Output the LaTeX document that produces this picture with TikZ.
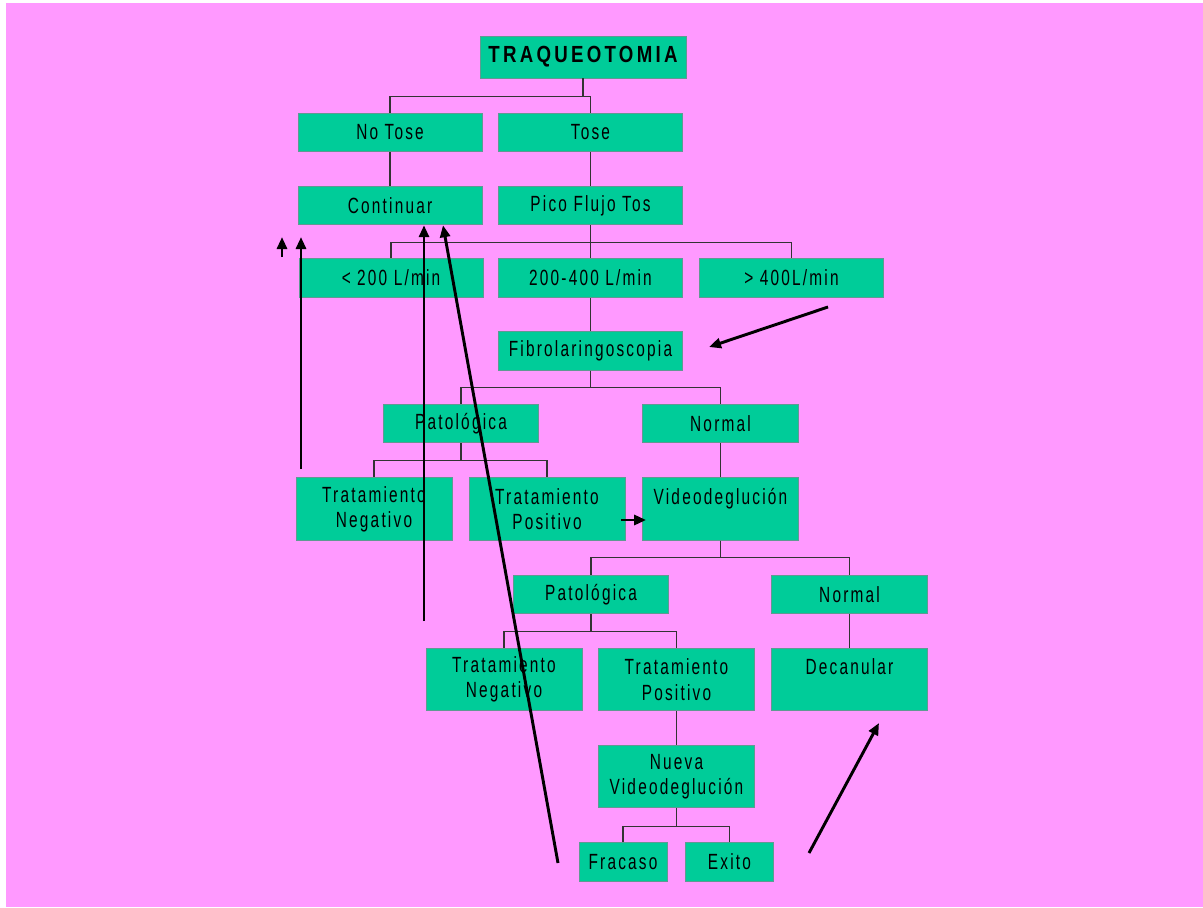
\documentclass[tikz,border=0pt]{standalone}
\usepackage{fontspec}
\usepackage{tikz}
\usetikzlibrary{arrows.meta,calc}
\newfontfamily\boxfont{Liberation Sans}[FakeStretch=0.7,LetterSpace=10]
\newfontfamily\titlefont{Liberation Sans}[FakeStretch=0.8,LetterSpace=14]
\definecolor{pinkbg}{HTML}{FF99FF}
\definecolor{boxgreen}{HTML}{00CC99}
\definecolor{boxline}{HTML}{5F9A92}
\definecolor{linegray}{HTML}{333333}
\tikzset{
  box/.style={draw=boxline, fill=boxgreen, line width=.6pt, inner sep=0pt,
              align=center, text=black,
              font={\boxfont\fontsize{16.5pt}{19pt}\selectfont}},
  wide/.style={box, minimum width=138pt, minimum height=29pt},
  mid/.style={box, minimum width=116.5pt, minimum height=29pt},
  tall/.style={box, minimum width=117pt, minimum height=47pt},
  small/.style={box, minimum width=66pt, minimum height=29pt},
  title/.style={box, minimum width=154.5pt, minimum height=31.5pt,
                font={\titlefont\bfseries\fontsize{17.5pt}{21pt}\selectfont}},
  conn/.style={draw=linegray, line width=.9pt},
  bigarrow/.style={-{Triangle[length=9pt,width=7.5pt]}, line width=2.2pt, draw=black}
}
\begin{document}
\begin{tikzpicture}[x=0.75pt, y=-0.75pt]
  % canvas
  \useasboundingbox (0,0) rectangle (1203,907);
  \fill[white] (0,0) rectangle (1203,907);
  \fill[pinkbg] (6,3) rectangle (1203,907);

  % top levels
  \node[title] (traq) at (583,57) {TRAQUEOTOMIA};
  \node[wide] (notose) at (390,132.5) {No Tose};
  \node[wide] (tose) at (590.5,132.5) {Tose};
  \node[wide] (cont) at (390,205.5) {Continuar};
  \node[wide] (pico) at (590.5,205.5) {Pico Flujo Tos};

  % peak flow
  \node[wide] (menos) at (391,278) {< 200 L/min};
  \node[wide] (medio) at (590.5,278) {200-400 L/min};
  \node[wide] (mas) at (791.5,278) {> 400L/min};
  \node[wide] (fibro) at (590.5,351) {Fibrolaringoscopia};

  % fibro results
  \node[mid] (pat1) at (461,423.5) {Patológica};
  \node[mid] (norm1) at (720.5,423.5) {Normal};
  \node[tall] (tneg1) at (374,509) {Tratamiento\\Negativo};
  \node[tall] (tpos1) at (547,509) {Tratamiento\\Positivo};
  \node[tall] (video1) at (720.5,509) {Videodeglución\\\mbox{}};

  % video results
  \node[mid] (pat2) at (591,594.5) {Patológica};
  \node[mid] (norm2) at (849.5,594.5) {Normal};
  \node[tall] (tneg2) at (504,679.5) {Tratamiento\\Negativo};
  \node[tall] (tpos2) at (676.5,679.5) {Tratamiento\\Positivo};
  \node[tall] (decan) at (849.5,679.5) {Decanular\\\mbox{}};
  \node[tall] (nueva) at (676.5,776.5) {Nueva\\Videodeglución};
  \node[small] (fracaso) at (623,862) {Fracaso};
  \node[small] (exito) at (729.5,862) {Exito};

  % tree lines
  \foreach \c in {notose,tose}
    \draw[conn] (traq.south) -- ++(0,18) -| (\c.north);
  \draw[conn] (notose) -- (cont);
  \draw[conn] (tose) -- (pico);
  \foreach \c in {menos,medio,mas}
    \draw[conn] (pico.south) -- ++(0,17) -| (\c.north);
  \draw[conn] (medio) -- (fibro);
  \foreach \c in {pat1,norm1}
    \draw[conn] (fibro.south) -- ++(0,17) -| (\c.north);
  \foreach \c in {tneg1,tpos1}
    \draw[conn] (pat1.south) -- ++(0,17) -| (\c.north);
  \draw[conn] (norm1) -- (video1);
  \foreach \c in {pat2,norm2}
    \draw[conn] (video1.south) -- ++(0,17) -| (\c.north);
  \foreach \c in {tneg2,tpos2}
    \draw[conn] (pat2.south) -- ++(0,17) -| (\c.north);
  \draw[conn] (norm2) -- (decan);
  \draw[conn] (tpos2) -- (nueva);
  \foreach \c in {fracaso,exito}
    \draw[conn] (nueva.south) -- ++(0,18) -| (\c.north);

  % hand drawn arrows
  \coordinate (a1s) at (282,257);
  \coordinate (a1e) at (282,237);
  \coordinate (a2s) at (301,469);
  \coordinate (a2e) at (301,237);
  \coordinate (a3s) at (424,621);
  \coordinate (a4s) at (558,863);
  \coordinate (a5s) at (828,307);
  \coordinate (a5e) at (709,347);
  \coordinate (a6s) at (809,853);
  \coordinate (a6e) at (879,723);
  \draw[bigarrow] (a1s) -- (a1e);
  \draw[bigarrow] (a2s) -- (a2e);
  \draw[bigarrow] (a3s) -- (a3s |- cont.south);
  \draw[bigarrow] (a4s) -- ($(cont.south)+(53,0)$);
  \draw[bigarrow] (a5s) -- (a5e);
  \draw[bigarrow] (a6s) -- (a6e);
  \draw[bigarrow] ($(tpos1.east)+(-4,11)$) -- ($(video1.west)+(4,11)$);
\end{tikzpicture}
\end{document}
